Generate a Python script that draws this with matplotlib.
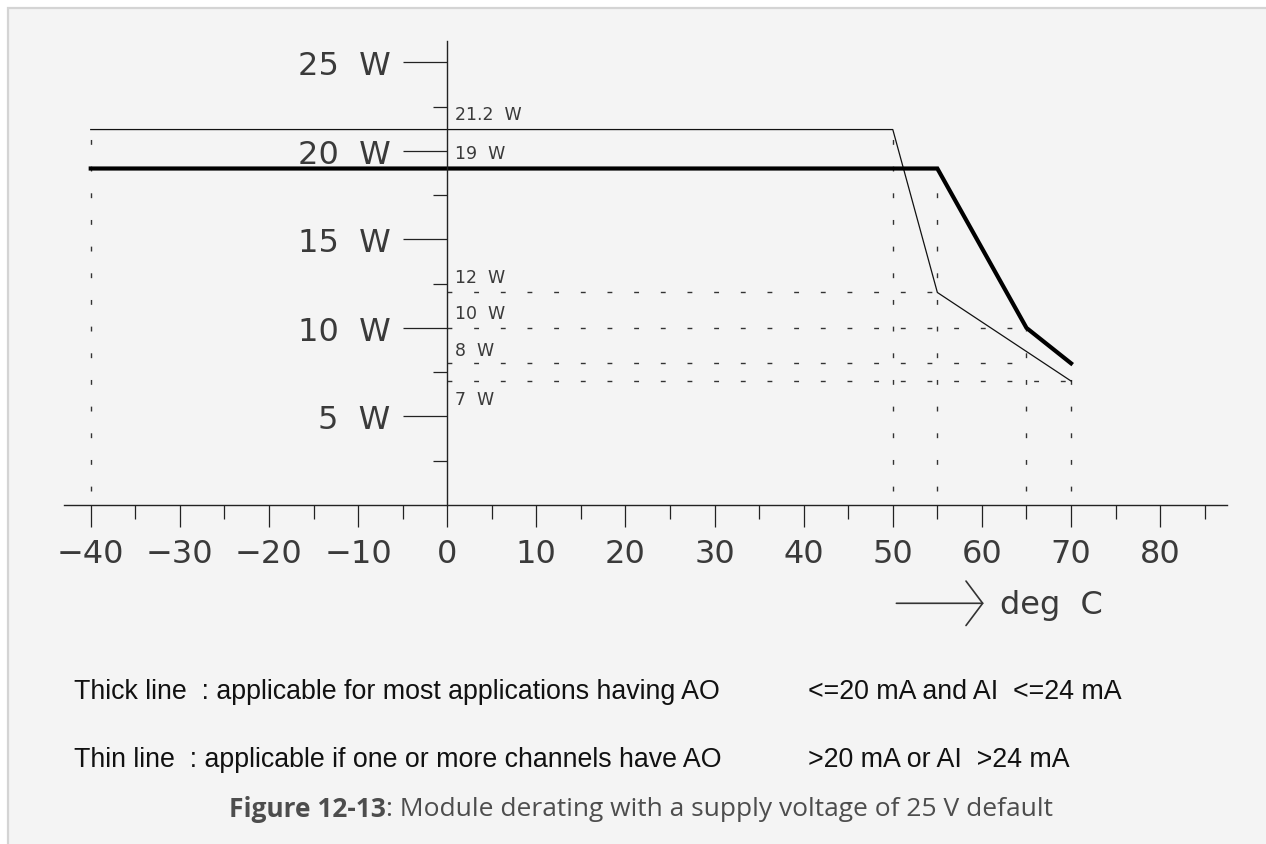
import matplotlib.pyplot as plt
from matplotlib.patches import Rectangle
from matplotlib.ticker import MultipleLocator, FixedLocator

# ---------------- data ----------------
# thick line : most applications (AO <= 20 mA, AI <= 24 mA)
thick_temp = [-40, 55, 65, 70]
thick_power = [19, 19, 10, 8]
# thin line : one or more channels AO > 20 mA or AI > 24 mA
thin_temp = [-40, 50, 55, 70]
thin_power = [21.2, 21.2, 12, 7]

# helper lines (value -> temperature where the dashed line stops)
h_levels = [12, 10, 8, 7]
h_ends = [55, 65, 65, 70]
v_temps = [-40, 50, 55, 65, 70]
v_tops = [21.2, 21.2, 19, 10, 8]

y_major = [5, 10, 15, 20, 25]
y_minor = [2.5, 7.5, 12.5, 17.5, 22.5]
x_major = [-40, -30, -20, -10, 0, 10, 20, 30, 40, 50, 60, 70, 80]

value_labels = ['21.2  W', '19  W', '12  W', '10  W', '8  W', '7  W']
value_label_y = [21.55, 19.35, 12.35, 10.35, 8.25, 5.5]

note_thick = ['Thick line  : applicable for most applications having AO', '<=20 mA and AI  <=24 mA']
note_thin = ['Thin line  : applicable if one or more channels have AO', '>20 mA or AI  >24 mA']
caption_bold = 'Figure 12-13'
caption_rest = ': Module derating with a supply voltage of 25 V default'

# ---------------- figure ----------------
W, H = 1266, 845
fig = plt.figure(figsize=(W / 100, H / 100), dpi=100, facecolor='white')

def px(x, y):
    return x / W, 1 - y / H

# panel background with left/top border
fig.patches.append(Rectangle(px(8, 860), (W + 20) / W, (860 - 9) / H, transform=fig.transFigure,
                             facecolor='#f4f4f4', edgecolor='#d4d4d4', linewidth=1.6, zorder=-5))

# axes box: x -43..87.5 -> px 64..1227, y 0..26.2 -> px 506..42
x0, x1, y0, y1 = -43.0, 87.5, 0.0, 26.2
l, b = px(64, 506)
ax = fig.add_axes([l, b, (1227 - 64) / W, (506 - 42) / H])
ax.set_zorder(2)
ax.set_xlim(x0, x1)
ax.set_ylim(y0, y1)
ax.patch.set_alpha(0)

for s in ['top', 'right']:
    ax.spines[s].set_visible(False)
ax.spines['left'].set_position(('data', 0))
ax.spines['left'].set_bounds(0, y1)
for s in ['left', 'bottom']:
    ax.spines[s].set_color('#222222')
    ax.spines[s].set_linewidth(1.0)

cad = dict(family='DejaVu Sans', color='#3a3a3a')

ax.yaxis.set_major_locator(FixedLocator(y_major))
ax.yaxis.set_minor_locator(FixedLocator(y_minor))
ax.set_yticklabels([f'{v}  W' for v in y_major], fontsize=23, **cad)
ax.tick_params(axis='y', which='major', direction='out', length=32, width=0.9, color='#222222', pad=9)
ax.tick_params(axis='y', which='minor', direction='out', length=10, width=0.9, color='#222222')

ax.xaxis.set_major_locator(FixedLocator(x_major))
ax.xaxis.set_minor_locator(MultipleLocator(5))
ax.set_xticklabels([f'{v}'.replace('-', '\u2212') for v in x_major], fontsize=23, **cad)
ax.tick_params(axis='x', which='major', direction='out', length=16, width=0.9, color='#222222', pad=8)
ax.tick_params(axis='x', which='minor', direction='out', length=10, width=0.9, color='#222222')

# dashed helper lines
dash = dict(color='#333333', linewidth=1.0, dashes=(3.5, 15.7))
for lev, end in zip(h_levels, h_ends):
    ax.plot([0, end], [lev, lev], **dash)
for t, top in zip(v_temps, v_tops):
    ax.plot([t, t], [0.8, top], **dash)

# derating curves
ax.plot(thin_temp, thin_power, color='#111111', linewidth=0.9, solid_joinstyle='miter')
ax.plot(thick_temp, thick_power, color='#000000', linewidth=3.0, solid_joinstyle='miter')

for txt, yv in zip(value_labels, value_label_y):
    ax.text(0.9, yv, txt, fontsize=12.5, va='bottom', ha='left', **cad)

# deg C arrow
ax.annotate('', xy=(60.2, -5.55), xytext=(50.4, -5.55), annotation_clip=False,
            arrowprops=dict(arrowstyle='->,head_length=0.6,head_width=0.8', color='#333333',
                            linewidth=1.2, mutation_scale=20, shrinkA=0, shrinkB=0))
ax.text(62.0, -5.6, 'deg  C', fontsize=23, va='center', ha='left', **cad)

# notes under the chart
note = dict(family=['Liberation Sans Narrow', 'Liberation Sans'], fontsize=19.3, color='#111111', va='center')
fig.text(*px(74, 692), note_thick[0], **note)
fig.text(*px(808, 692), note_thick[1], **note)
fig.text(*px(74, 760), note_thin[0], **note)
fig.text(*px(808, 760), note_thin[1], **note)

# caption
cap = dict(family=['Open Sans', 'Noto Sans', 'DejaVu Sans'], fontsize=19, color='#4d4d4d', va='center')
t1 = fig.text(*px(229, 810), caption_bold, fontweight='bold', **cap)
fig.canvas.draw()
bb = t1.get_window_extent()
fig.text(bb.x1 / W, 1 - 810 / H, caption_rest, **cap)

fig.savefig('out.png', dpi=100, facecolor='white')
